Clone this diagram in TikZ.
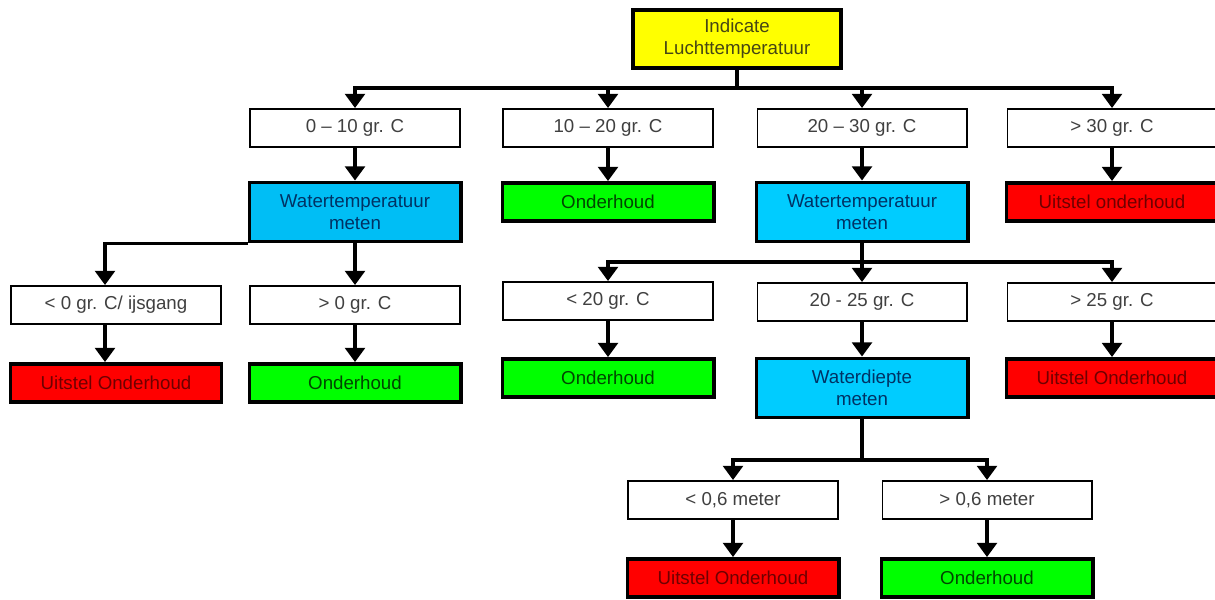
\documentclass[tikz,border=0pt]{standalone}
\usepackage{fontspec}
\setmainfont{Liberation Sans}
\usepackage{tikz}
\usetikzlibrary{arrows.meta}

\definecolor{headfill}{RGB}{255,255,0}
\definecolor{gofill}{RGB}{0,255,0}
\definecolor{stopfill}{RGB}{255,0,0}
\definecolor{measfill}{RGB}{0,190,245}
\definecolor{measfillb}{RGB}{0,204,255}
\definecolor{headtext}{RGB}{70,70,20}
\definecolor{gotext}{RGB}{0,70,0}
\definecolor{stoptext}{RGB}{110,0,0}
\definecolor{meastext}{RGB}{0,50,100}

\begin{document}
\begin{tikzpicture}[x=0.025cm, y=-0.025cm,
	every node/.style={font=\fontsize{13.3}{15.5}\selectfont, align=center, inner sep=0pt},
	condbox/.style={rectangle, draw=black, fill=white, line width=1.4pt, minimum width=5.225cm, minimum height=0.95cm, text=black!75},
	gobox/.style={rectangle, draw=black, fill=gofill, line width=2.8pt, minimum width=5.275cm, minimum height=0.95cm, text=gotext},
	stopbox/.style={rectangle, draw=black, fill=stopfill, line width=2.8pt, minimum width=5.275cm, minimum height=0.95cm, text=stoptext},
	measbox/.style={rectangle, draw=black, fill=measfillb, line width=2.8pt, minimum width=5.275cm, minimum height=1.475cm, text=meastext},
	headbox/.style={rectangle, draw=black, fill=headfill, line width=2.8pt, minimum width=5.2cm, minimum height=1.45cm, text=headtext},
	link/.style={line width=2.2pt},
	arr/.style={-{Triangle[width=14pt,length=10pt]}, line width=2.2pt}]
		\useasboundingbox (0,0) rectangle (1215,599);
		% air temperature
		\node[headbox](lucht) at (737,39){Indicate\\Luchttemperatuur};
		\node[condbox](cold)  at (355,128){0 -- 10 gr. C};
		\node[condbox](mild)  at (608,128){10 -- 20 gr. C};
		\node[condbox](warm)  at (862,128){20 -- 30 gr. C};
		\node[condbox](hot)   at (1112,128){> 30 gr. C};
		\node[measbox, fill=measfill](wtcold) at (355,212){Watertemperatuur\\meten};
		\node[gobox](okmild)   at (608,202){Onderhoud};
		\node[measbox](wtwarm) at (862,212){Watertemperatuur\\meten};
		\node[stopbox](nohot)  at (1112,202){Uitstel onderhoud};
		% water temperature, cold air
		\node[condbox](ice)    at (116,305){< 0 gr. C/ ijsgang};
		\node[condbox](noice)  at (355,305){> 0 gr. C};
		\node[stopbox](noice1) at (116,383){Uitstel Onderhoud};
		\node[gobox](okice)    at (355,383){Onderhoud};
		% water temperature, warm air
		\node[condbox](wlow)   at (608,301){< 20 gr. C};
		\node[condbox](wmid)   at (862,302){20 - 25 gr. C};
		\node[condbox](whigh)  at (1112,302){> 25 gr. C};
		\node[gobox](oklow)    at (608,378){Onderhoud};
		\node[measbox](depth)  at (862,388){Waterdiepte\\meten};
		\node[stopbox](nohigh) at (1112,378){Uitstel Onderhoud};
		% water depth
		\node[condbox](shallow) at (733,500){< 0,6 meter};
		\node[condbox](deep)    at (987,500){> 0,6 meter};
		\node[stopbox](noshal)  at (733,578){Uitstel Onderhoud};
		\node[gobox](okdeep)    at (987,578){Onderhoud};
		\coordinate(busa) at (737,88);
		\coordinate(busb) at (105,245);
		\coordinate(busc) at (862,262);
		\coordinate(busd) at (862,460);
		\draw [link] (lucht) -- (busa);
		\draw [arr] (busa) -| (cold);
		\draw [arr] (busa) -| (mild);
		\draw [arr] (busa) -| (warm);
		\draw [arr] (busa) -| (hot);
		\draw [arr] (cold) -- (wtcold);
		\draw [arr] (mild) -- (okmild);
		\draw [arr] (warm) -- (wtwarm);
		\draw [arr] (hot) -- (nohot);
		\draw [arr] (wtcold.south west) -| (busb |- ice.north);
		\draw [arr] (wtcold) -- (noice);
		\draw [arr] (ice.south -| busb) -- (busb |- noice1.north);
		\draw [arr] (noice) -- (okice);
		\draw [link] (wtwarm) -- (busc);
		\draw [arr] (busc) -| (wlow);
		\draw [arr] (busc) -- (wmid);
		\draw [arr] (busc) -| (whigh);
		\draw [arr] (wlow) -- (oklow);
		\draw [arr] (wmid) -- (depth);
		\draw [arr] (whigh) -- (nohigh);
		\draw [link] (depth) -- (busd);
		\draw [arr] (busd) -| (shallow);
		\draw [arr] (busd) -| (deep);
		\draw [arr] (shallow) -- (noshal);
		\draw [arr] (deep) -- (okdeep);
	\end{tikzpicture}
\end{document}
